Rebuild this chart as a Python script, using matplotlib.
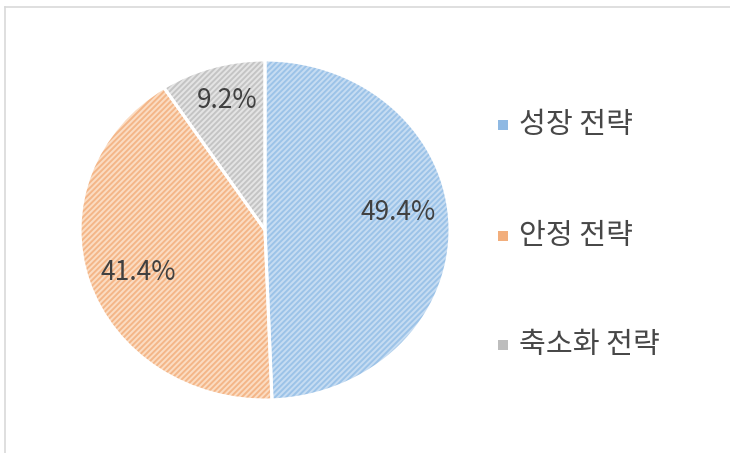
import matplotlib
matplotlib.use("Agg")
import matplotlib.pyplot as plt
from matplotlib.lines import Line2D
from matplotlib.patches import Rectangle

plt.rcParams['font.family'] = ['Noto Sans CJK KR', 'DejaVu Sans']
plt.rcParams['hatch.linewidth'] = 1.4

# data
labels = ["성장 전략", "안정 전략", "축소화 전략"]
shares = [49.4, 41.4, 9.2]
face_colors = ["#c6dcf2", "#fbdcc2", "#e4e4e4"]
hatch_colors = ["#9cc3e8", "#f4b688", "#c4c4c4"]
legend_colors = ["#8fb9e3", "#f2ae7c", "#bdbdbd"]

fig = plt.figure(figsize=(7.30, 4.53), dpi=100)

# light frame lines (top and left)
fig.add_artist(Line2D([5 / 730, 1], [1 - 7 / 453, 1 - 7 / 453], color="#d9d9d9", lw=1.2))
fig.add_artist(Line2D([5 / 730, 5 / 730], [0, 1 - 7 / 453], color="#d9d9d9", lw=1.2))

# pie axes: pixels x 80..450, y 60..400
ax = fig.add_axes([80 / 730, 53 / 453, 370 / 730, 340 / 453])

# hatched fill
wedges, _ = ax.pie(shares, startangle=90, counterclock=False, colors=face_colors,
                   wedgeprops=dict(linewidth=0))
for w, hc in zip(wedges, hatch_colors):
    w.set_hatch("//////")
    w.set_edgecolor(hc)
    w.set_linewidth(0)

# white separators and percent labels
wedges2, _, autotexts = ax.pie(shares, startangle=90, counterclock=False,
                               colors=["none"] * 3, autopct="%.1f%%", pctdistance=0.72,
                               wedgeprops=dict(edgecolor="white", linewidth=2.2),
                               textprops=dict(fontsize=19, color="#404040"))
# nudge labels like the original
label_dy = [0.09, -0.03, 0.07]
for t, dy in zip(autotexts, label_dy):
    x, y = t.get_position()
    t.set_position((x, y + dy))

ax.set_aspect("auto")
ax.set_xlim(-1.0, 1.0)
ax.set_ylim(-1.0, 1.0)

# legend
leg_y = [1 - 125 / 453, 1 - 236 / 453, 1 - 345 / 453]
for lab, lc, y in zip(labels, legend_colors, leg_y):
    fig.add_artist(Rectangle((498 / 730, y - 5 / 453), 10 / 730, 10 / 453,
                             facecolor=lc, edgecolor="none", transform=fig.transFigure))
    fig.text(519 / 730, y, lab, fontsize=21, color="#474747", va="center", ha="left")

fig.savefig("out.png", dpi=100, facecolor="white")
